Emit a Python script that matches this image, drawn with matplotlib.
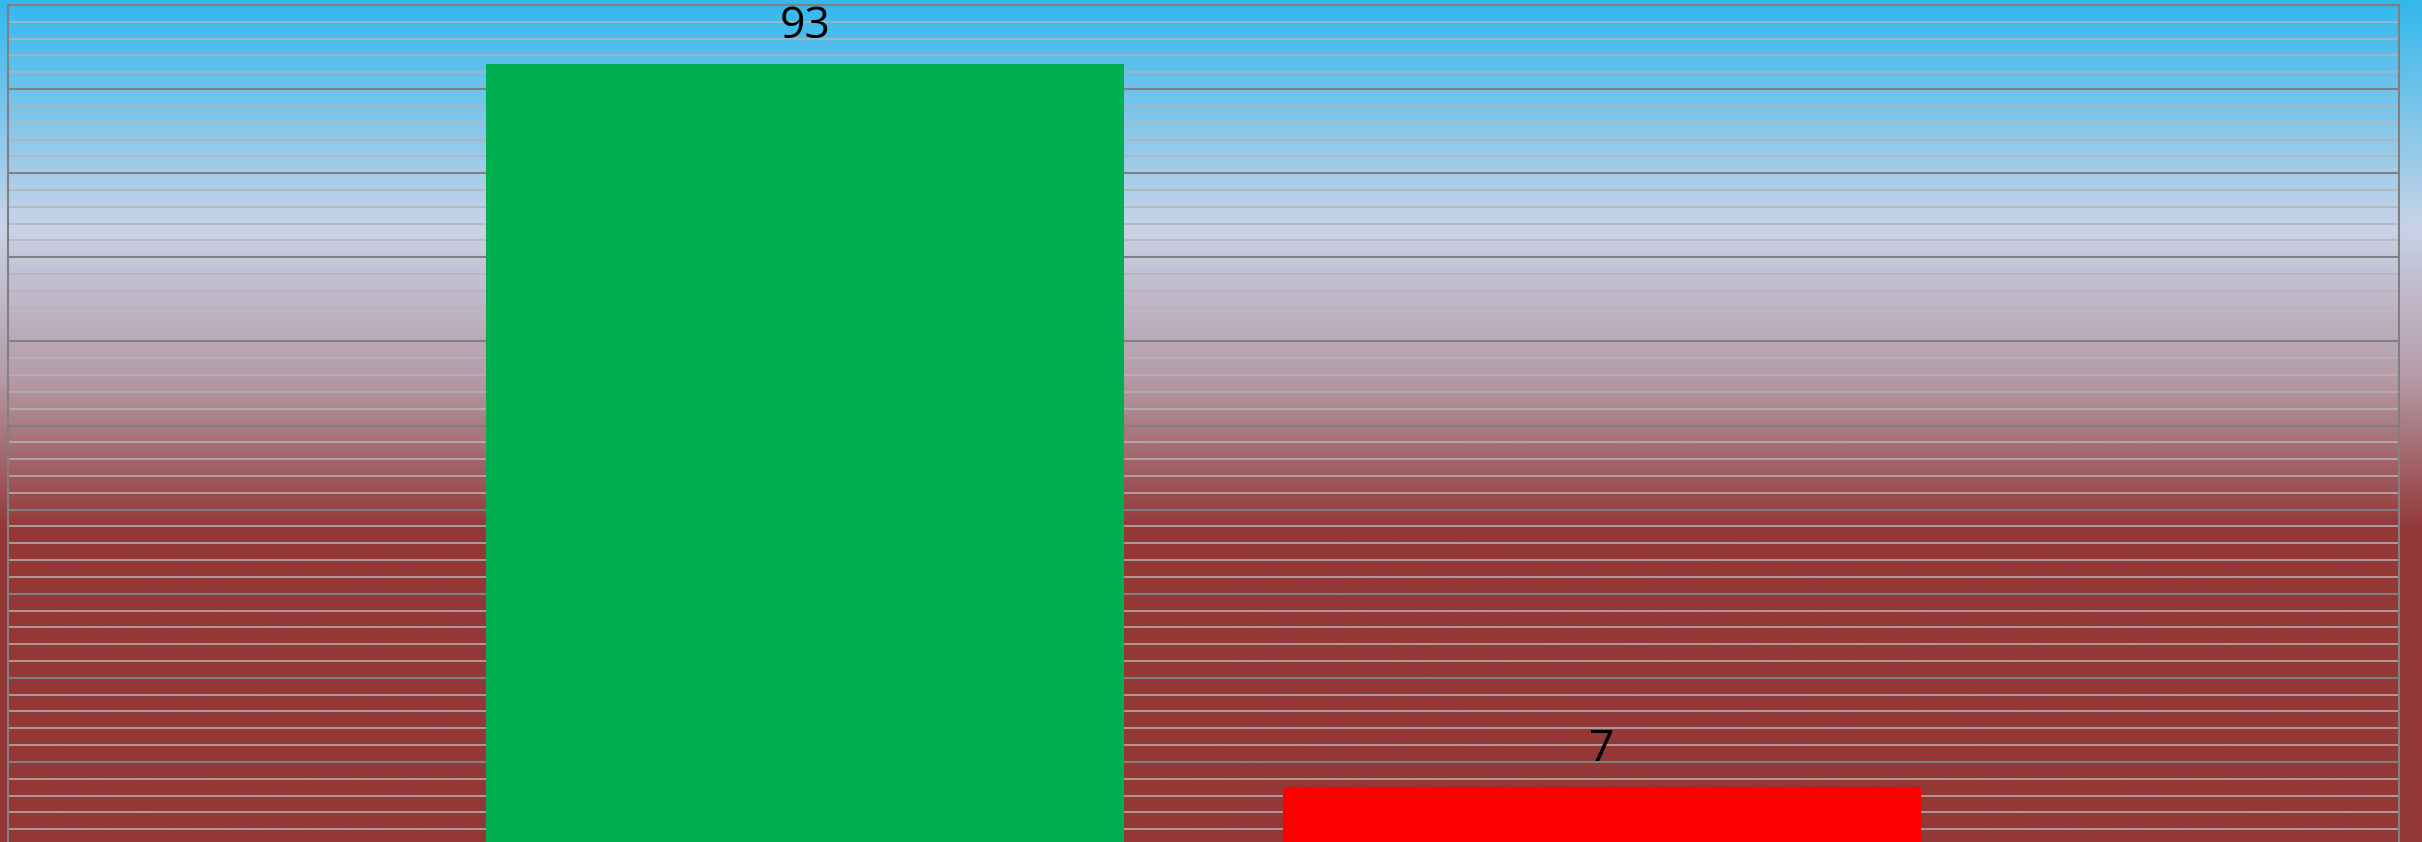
import numpy as np
import matplotlib
matplotlib.use("Agg")
import matplotlib.pyplot as plt
from matplotlib.colors import LinearSegmentedColormap

# Data
categories = ["Yes", "No"]
values = [93, 7]
bar_colors = ["#00B050", "#FF0000"]

W, H = 2422, 842
fig = plt.figure(figsize=(W / 100, H / 100), dpi=100)

# Background gradient over the whole figure
bg = fig.add_axes([0, 0, 1, 1], zorder=0)
cmap = LinearSegmentedColormap.from_list(
    "bg",
    [(0.0, "#33B8EE"), (0.27, "#C9D3E8"), (0.45, "#B59AA6"), (0.63, "#933737"), (1.0, "#933737")],
)
grad = np.linspace(0, 1, 512).reshape(-1, 1)
bg.imshow(grad, aspect="auto", cmap=cmap, extent=[0, 1, 1, 0])
bg.set_xlim(0, 1)
bg.set_ylim(1, 0)
bg.axis("off")

# Main axes
left = 8 / W
right = 2399 / W
top = 1 - 5 / H
bottom = (H - 846) / H
ax = fig.add_axes([left, bottom, right - left, top - bottom], zorder=1)
ax.set_facecolor("none")

x = np.arange(len(categories))
bars = ax.bar(x, values, width=0.8, color=bar_colors, zorder=3)
ax.set_xlim(-1, 2)
ax.set_ylim(0, 100)

ax.set_yticks(np.arange(0, 101, 10))
ax.set_yticks(np.arange(0, 101, 2), minor=True)
ax.grid(which="minor", axis="y", color="#B4B4B4", linewidth=1.1, zorder=1)
ax.grid(which="major", axis="y", color="#808080", linewidth=1.5, zorder=1)
ax.set_axisbelow(True)
ax.tick_params(which="both", left=False, bottom=False, labelleft=False, labelbottom=False)
ax.set_xticks(x)
for s in ax.spines.values():
    s.set_color("#808080")
    s.set_linewidth(1.5)

ax.bar_label(bars, labels=[str(v) for v in values], padding=11,
             fontsize=32, family=["Open Sans", "DejaVu Sans"], color="black")

fig.savefig("out.png", dpi=100)
